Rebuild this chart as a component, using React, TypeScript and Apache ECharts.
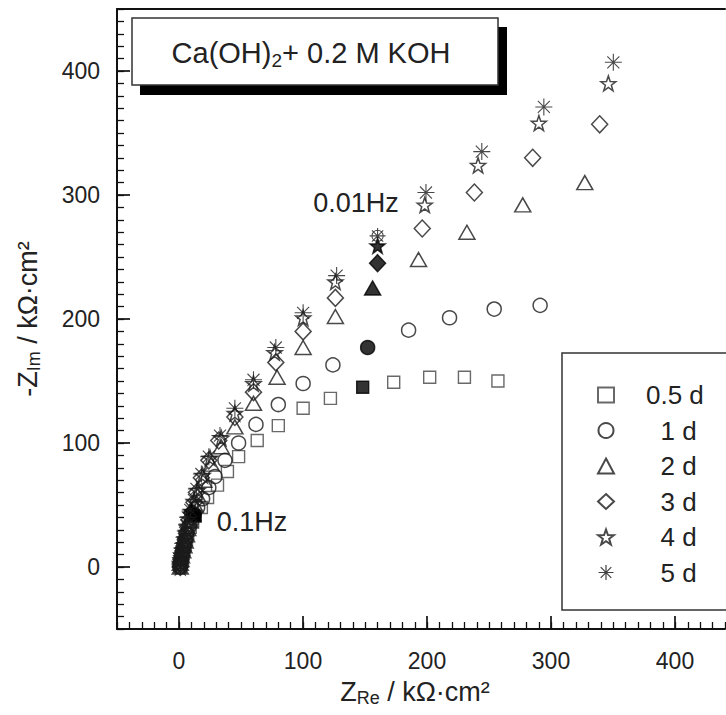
import React, { useEffect, useRef } from 'react';
import * as echarts from 'echarts';

const FONT = '"Liberation Sans", Arial, Helvetica, sans-serif';

const seriesNames = ['0.5 d', '1 d', '2 d', '3 d', '4 d', '5 d'];
const xTickLabels = [0, 100, 200, 300, 400];
const yTickLabels = [0, 100, 200, 300, 400];

// open symbols (ZRe, -ZIm) in kOhm cm2
const open05 = [[1,0],[1,2],[1.5,4],[2,7],[3,10],[4,14],[5,18],[6,22],[7,27],[9,32],[11,37],[18,48],[23,56],[31,66],[39,77],[48,89],[63,102],[80,114],[100,128],[122,136],[173,149],[202,153],[230,153],[257,150]];
const solid05 = [[13,41],[148,145]];
const open1 = [[1,0],[1,2],[1.5,4],[2,7],[2.5,10],[3,14],[4,18],[5,22],[6,27],[8,32],[10,37],[15,48],[19,55],[24,64],[29,73],[37,86],[48,100],[62,115],[80,131],[100,148],[124,163],[185,191],[218,201],[254,208],[291,211]];
const solid1 = [[12,42],[152,177]];
const open2 = [[1,0],[1,3],[1.5,6],[2,9],[3,13],[4,17],[5,21],[6,26],[7,31],[9,37],[13,50],[15,58],[20,70],[26,83],[34,97],[45,113],[60,132],[79,153],[100,177],[126,202],[193,248],[232,270],[277,292],[327,310]];
const solid2 = [[11,43],[156,225]];
const open3 = [[1,0],[1,3],[1.5,6],[2,9],[3,13],[4,17],[5,22],[6,27],[7,32],[8,38],[12,52],[14,60],[18,72],[24,86],[32,102],[45,121],[60,141],[78,165],[100,190],[126,217],[196,273],[238,302],[285,330],[339,357]];
const solid3 = [[10,44],[160,245]];
const open4 = [[1,0],[1,3],[1.5,6],[2,10],[3,14],[4,18],[5,23],[6,28],[7,33],[8,39],[12,53],[15,62],[19,74],[25,88],[34,104],[45,124],[60,148],[77,173],[100,201],[126,230],[198,292],[241,324],[290,358],[346,390]];
const solid4 = [[10,45],[160,259]];
const open5 = [[1,0],[1,4],[1.5,7],[2,11],[2.5,15],[3,19],[4,24],[5,29],[6,34],[7,40],[9,46],[12,54],[14,63],[18,75],[24,89],[33,106],[45,128],[60,151],[78,177],[100,205],[127,235],[199,302],[244,335],[294,371],[350,407]];
const mark5 = [[160,267]];

const STAR = 'path://M0,-10L2.35,-3.24L9.51,-3.09L3.8,1.24L5.88,8.09L0,4L-5.88,8.09L-3.8,1.24L-9.51,-3.09L-2.35,-3.24Z';
const ASTER = 'path://M0,-10L0,10M-10,0L10,0M-7.07,-7.07L7.07,7.07M-7.07,7.07L7.07,-7.07';
const ASTER_CIRC = 'path://M0,-10L0,10M-10,0L10,0M-7.07,-7.07L7.07,7.07M-7.07,7.07L7.07,-7.07M7,0A7,7,0,1,1,-7,0A7,7,0,1,1,7,0';

const STROKE = '#1c1c1c';

function mk(name: string, open: number[][], solid: number[][], symbol: string, size: any, z: number, stroke = STROKE, bw = 1.5) {
  const data: any[] = open.map((p) => ({ value: p }));
  solid.forEach((p) => data.push({ value: p, itemStyle: { color: '#000', borderColor: '#000' } }));
  return {
    type: 'scatter',
    name,
    xAxisIndex: 0,
    yAxisIndex: 0,
    symbol,
    symbolSize: size,
    data,
    z,
    itemStyle: { color: 'rgba(255,255,255,0)', borderColor: stroke, borderWidth: bw },
    emphasis: { disabled: true },
  };
}

export default function App() {
  const ref = useRef<HTMLDivElement>(null);
  useEffect(() => {
    document.body.style.margin = '0';
    const chart = echarts.init(ref.current!, null, { renderer: 'svg' });
    const s5: any = mk('5 d', open5, [], ASTER, 17, 7, '#1c1c1c', 1.1);
    mark5.forEach((p) => s5.data.push({ value: p, symbol: ASTER_CIRC, symbolSize: 16 }));
    const pad: Record<string, string> = { '0.5 d': '0.5 d', '1 d': '  1 d', '2 d': '  2 d', '3 d': '  3 d', '4 d': '  4 d', '5 d': '  5 d' };
    const frameLine = { show: true, onZero: false, lineStyle: { color: '#111', width: 2 } };
    const legendData = seriesNames.map((n) => (n === '5 d' ? { name: n, itemStyle: { borderWidth: 1.2, borderColor: '#111' } } : { name: n }));
    const option: any = {
      animation: false,
      textStyle: { fontFamily: FONT },
      grid: [
        { left: 117, top: 9, width: 608, height: 620, show: false },
        { left: 179, top: 71, width: 496, height: 496, show: false },
      ],
      xAxis: [
        {
          gridIndex: 0, type: 'value', min: -50, max: 440, interval: 10,
          axisLine: frameLine, splitLine: { show: false },
          axisTick: { inside: true, length: 7, lineStyle: { color: '#111', width: 1.3 } },
          axisLabel: { show: false },
          name: '{a|Z}{b|Re}{a| / kΩ·cm²}', nameLocation: 'middle', nameGap: 48,
          nameTextStyle: {
            padding: [0, 12, 0, 0],
            rich: {
              a: { fontSize: 27, fontFamily: FONT, color: '#222' },
              b: { fontSize: 18, fontFamily: FONT, color: '#222', padding: [12, 0, 0, 0] },
            },
          },
        },
        {
          gridIndex: 1, type: 'value', min: 0, max: 400, interval: 100, offset: 62, position: 'bottom',
          axisLine: frameLine, splitLine: { show: false },
          axisTick: { show: true, inside: true, length: 13, lineStyle: { color: '#111', width: 1.7 } },
          axisLabel: {
            margin: 20, fontSize: 23, color: '#222', fontFamily: FONT,
            formatter: (v: number) => (xTickLabels.indexOf(v) >= 0 ? String(v) : ''),
          },
        },
        {
          gridIndex: 0, type: 'value', min: -50, max: 440, position: 'top',
          axisLine: frameLine, axisTick: { show: false }, axisLabel: { show: false }, splitLine: { show: false },
        },
      ],
      yAxis: [
        {
          gridIndex: 0, type: 'value', min: -50, max: 450, interval: 10,
          axisLine: frameLine, splitLine: { show: false },
          axisTick: { inside: true, length: 7, lineStyle: { color: '#111', width: 1.3 } },
          axisLabel: { show: false },
          name: '{a|-Z}{b|Im}{a| / kΩ·cm²}', nameLocation: 'middle', nameGap: 74, nameRotate: 90,
          nameTextStyle: {
            rich: {
              a: { fontSize: 27, fontFamily: FONT, color: '#222' },
              b: { fontSize: 18, fontFamily: FONT, color: '#222', padding: [12, 0, 0, 0] },
            },
          },
        },
        {
          gridIndex: 1, type: 'value', min: 0, max: 400, interval: 100, offset: 62, position: 'left',
          axisLine: frameLine, splitLine: { show: false },
          axisTick: { show: true, inside: true, length: 13, lineStyle: { color: '#111', width: 1.7 } },
          axisLabel: {
            margin: 17, fontSize: 23, color: '#222', fontFamily: FONT,
            formatter: (v: number) => (yTickLabels.indexOf(v) >= 0 ? String(v) : ''),
          },
        },
      ],
      legend: {
        orient: 'vertical', left: 592, top: 377, itemWidth: 16, itemHeight: 15, itemGap: 9.5,
        data: legendData, selectedMode: false, z: 20,
        formatter: (n: string) => pad[n],
        textStyle: { fontSize: 26, lineHeight: 26, color: '#222', fontFamily: FONT, padding: [0, 0, 0, 27] },
      },
      graphic: [
        { type: 'rect', z: 10, shape: { x: 140, y: 27, width: 367, height: 68 }, style: { fill: '#000' } },
        { type: 'rect', z: 11, shape: { x: 132, y: 18, width: 366, height: 67 }, style: { fill: '#fff', stroke: '#333', lineWidth: 1.5 } },
        {
          type: 'text', z: 12, x: 311, y: 53,
          style: {
            text: '{n|Ca(OH)}{s|2}{n|+ 0.2 M KOH}', align: 'center', verticalAlign: 'middle',
            rich: {
              n: { fontSize: 29, fontFamily: FONT, fill: '#222' },
              s: { fontSize: 19, fontFamily: FONT, fill: '#222', padding: [14, 0, 0, 0] },
            },
          },
        },
        { type: 'rect', z: 10, shape: { x: 562, y: 353, width: 200, height: 257 }, style: { fill: '#fff', stroke: '#333', lineWidth: 1.5 } },
        { type: 'text', z: 12, x: 356, y: 203, style: { text: '0.01Hz', align: 'center', verticalAlign: 'middle', fontSize: 27, fontFamily: FONT, fill: '#222' } },
        { type: 'text', z: 12, x: 252, y: 522, style: { text: '0.1Hz', align: 'center', verticalAlign: 'middle', fontSize: 27, fontFamily: FONT, fill: '#222' } },
      ],
      series: [
        mk('0.5 d', open05, solid05, 'rect', 12, 2, '#444', 1.4),
        mk('1 d', open1, solid1, 'circle', 14, 3),
        mk('2 d', open2, solid2, 'triangle', [16, 14], 4),
        mk('3 d', open3, solid3, 'diamond', [16, 17], 5),
        mk('4 d', open4, solid4, STAR, 15, 6),
        s5,
      ],
    };
    chart.setOption(option);
    return () => chart.dispose();
  }, []);
  return <div ref={ref} style={{ width: 726, height: 715 }} />;
}
